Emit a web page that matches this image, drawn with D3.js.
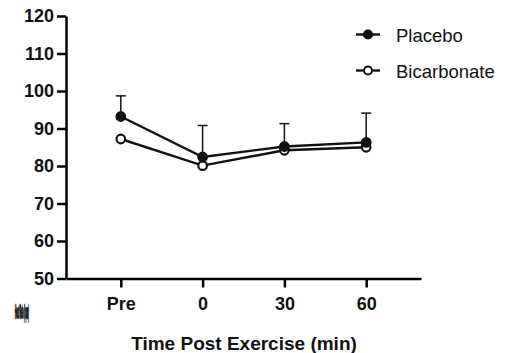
<!DOCTYPE html>
<html>
<head>
<meta charset="utf-8">
<script src="https://cdn.jsdelivr.net/npm/d3@7"></script>
<style>
  body { margin: 0; background: #fff; }
  text { font-family: "Liberation Sans", Arial, sans-serif; }
</style>
</head>
<body>
<div id="chart"></div>
<script>
// data
const times = ['Pre', '0', '30', '60']
const placebo = [93.2, 82.4, 85.2, 86.3]
const placeboErr = [5.5, 8.4, 6.1, 7.8]
const bicarbonate = [87.2, 80.1, 84.2, 85.0]
const yTicks = [50, 60, 70, 80, 90, 100, 110, 120]
const yTitle = 'Heart Rate (bpm)'

const svg = d3.select('#chart')
              .append('svg')
              .attr('width', 512)
              .attr('height', 353)

const x = d3.scalePoint().domain(times).range([66, 421]).padding(0.67)
const y = d3.scaleLinear().domain([50, 120]).range([278.5, 16])

// axes
const yAxis = svg.append('g')
  .attr('transform', 'translate(66,0)')
  .call(d3.axisLeft(y).tickValues(yTicks).tickSize(9).tickPadding(3).tickSizeOuter(0))
yAxis.select('.domain').attr('stroke-width', 2.5)
yAxis.selectAll('.tick line').attr('stroke-width', 2.5)
yAxis.selectAll('.tick text').attr('font-size', 18).attr('font-weight', 'bold').attr('fill', '#111')

const xAxis = svg.append('g')
  .attr('transform', 'translate(0,278.5)')
  .call(d3.axisBottom(x).tickSize(9).tickPadding(10).tickSizeOuter(0))
xAxis.select('.domain').attr('stroke-width', 2.5)
xAxis.selectAll('.tick line').attr('stroke-width', 2.5)
xAxis.selectAll('.tick text').attr('font-size', 18).attr('font-weight', 'bold').attr('fill', '#111')

svg.append('text')
  .attr('x', 244).attr('y', 350)
  .attr('text-anchor', 'middle')
  .attr('font-size', 19).attr('font-weight', 'bold').attr('fill', '#111')
  .text('Time Post Exercise (min)')

// y title: squeezed into a small dark blob in the original
svg.append('text')
  .attr('transform', 'translate(15,318) scale(0.095,1)')
  .attr('font-size', 18).attr('font-weight', 'bold').attr('fill', '#111')
  .attr('stroke', '#111').attr('stroke-width', 1.6)
  .attr('vector-effect', 'non-scaling-stroke')
  .text(yTitle)

// error bars (placebo, upward)
const errs = svg.append('g')
errs.selectAll('line.v')
  .data(times)
  .enter()
  .append('line')
  .attr('x1', d => x(d)).attr('x2', d => x(d))
  .attr('y1', (d, i) => y(placebo[i]))
  .attr('y2', (d, i) => y(placebo[i] + placeboErr[i]))
  .attr('stroke', '#111').attr('stroke-width', 1.5)
errs.selectAll('line.h')
  .data(times)
  .enter()
  .append('line')
  .attr('x1', d => x(d) - 5).attr('x2', d => x(d) + 5)
  .attr('y1', (d, i) => y(placebo[i] + placeboErr[i]))
  .attr('y2', (d, i) => y(placebo[i] + placeboErr[i]))
  .attr('stroke', '#111').attr('stroke-width', 1.5)

const line = d3.line().x((d, i) => x(times[i])).y(d => y(d))

const series = [
  { name: 'Bicarbonate', values: bicarbonate, fill: '#fff' },
  { name: 'Placebo', values: placebo, fill: '#111' }
]

series.forEach(s => {
  svg.append('path')
    .datum(s.values)
    .attr('d', line)
    .attr('fill', 'none')
    .attr('stroke', '#111')
    .attr('stroke-width', 2.4)
  svg.selectAll(null)
    .data(s.values)
    .enter()
    .append('circle')
    .attr('cx', (d, i) => x(times[i]))
    .attr('cy', d => y(d))
    .attr('r', 4.3)
    .attr('fill', s.fill)
    .attr('stroke', '#111')
    .attr('stroke-width', 2.2)
})

// legend
const legend = svg.append('g')
const legendItems = [
  { name: 'Placebo', fill: '#111', y: 34.5 },
  { name: 'Bicarbonate', fill: '#fff', y: 70.5 }
]
legendItems.forEach(l => {
  legend.append('line')
    .attr('x1', 356).attr('x2', 380)
    .attr('y1', l.y).attr('y2', l.y)
    .attr('stroke', '#111').attr('stroke-width', 2.4)
  legend.append('circle')
    .attr('cx', 368).attr('cy', l.y).attr('r', 4)
    .attr('fill', l.fill).attr('stroke', '#111').attr('stroke-width', 2.2)
  legend.append('text')
    .attr('x', 396).attr('y', l.y + 7)
    .attr('font-size', 18.5).attr('fill', '#111')
    .text(l.name)
})
</script>
</body>
</html>
